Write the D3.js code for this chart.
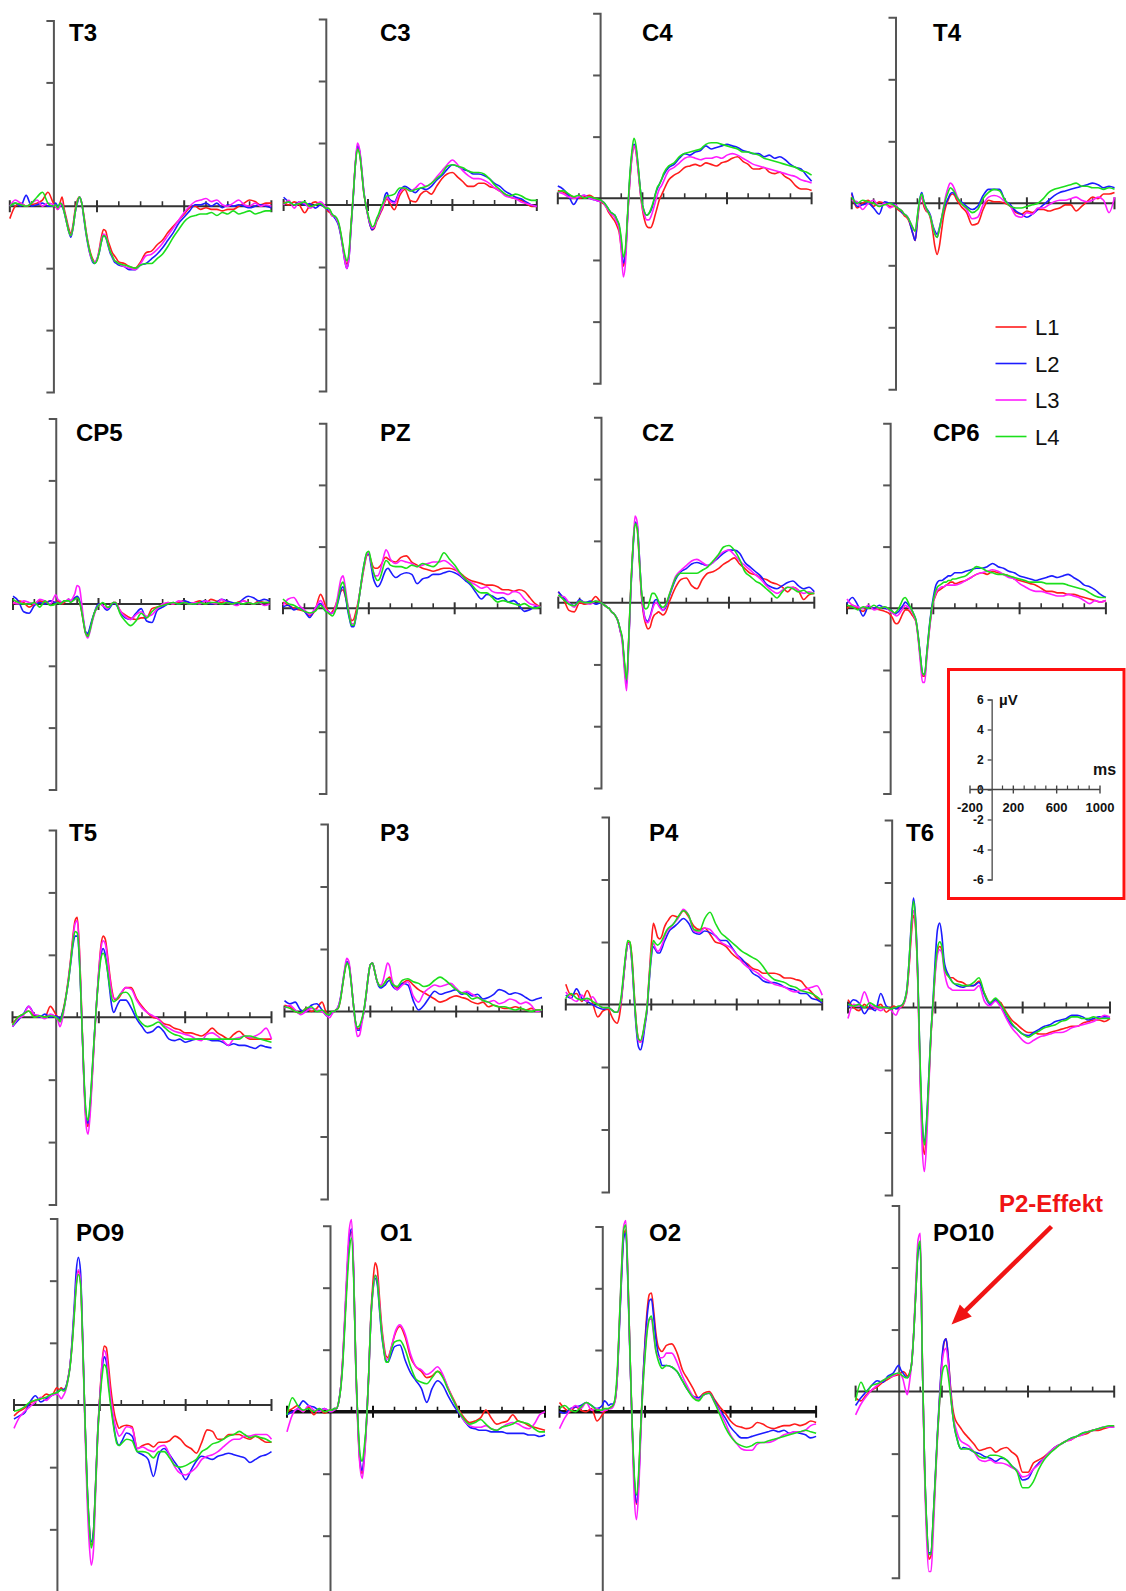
<!DOCTYPE html>
<html>
<head>
<meta charset="utf-8">
<script src="https://cdn.jsdelivr.net/npm/d3@7"></script>
<style>
  html, body { margin: 0; padding: 0; background: #fff; }
  svg { display: block; }
</style>
</head>
<body>
<svg id="chart" width="1126" height="1591"></svg>
<script>
// Sampling times (ms): coarse baseline, 10 ms steps over the early components, 25 ms afterwards
const times = [-200,-175,-150,-125,-100,-75,-50,-25,0,
  10,20,30,40,50,60,70,80,90,100,
  110,120,130,140,150,160,170,180,190,200,
  210,220,230,240,250,260,270,280,290,300,
  325,350,375,400,425,450,475,500,525,550,
  575,600,625,650,675,700,725,750,775,800,
  825,850,875,900,925,950,975,1000];

const conditions = ["L1", "L2", "L3", "L4"];
const electrodes = ["T3","C3","C4","T4","CP5","PZ","CZ","CP6","T5","P3","P4","T6","PO9","O1","O2","PO10"];

// Grand-average amplitudes in µV, one row per condition (L1, L2, L3, L4)
const T3 = [
  [-0.4,0,0.1,0,0.05,0.1,0.2,0.45,0.1,
   0,-0.1,0.1,0.3,-0.1,-0.4,-0.7,-0.9,-0.6,-0.1,
   0.2,0.3,0.1,-0.3,-0.8,-1.2,-1.5,-1.7,-1.8,-1.75,
   -1.4,-1.0,-0.75,-0.8,-1.1,-1.3,-1.5,-1.6,-1.7,-1.8,
   -1.85,-1.95,-2.0,-1.8,-1.5,-1.45,-1.25,-1.1,-0.85,-0.65,
   -0.45,-0.25,-0.05,0,-0.1,-0.05,-0.1,-0.1,-0.15,-0.1,
   -0.1,0,0.1,0.2,0.15,0.05,0.1,0.1],
  [0,0.1,0,0.35,0,0.05,0.1,0,0,
   0.1,0,0.05,0,-0.2,-0.5,-0.8,-1.0,-0.7,-0.2,
   0.1,0.3,0.1,-0.4,-0.9,-1.3,-1.6,-1.8,-1.85,-1.7,
   -1.5,-1.15,-0.95,-1.0,-1.25,-1.5,-1.65,-1.8,-1.85,-1.9,
   -1.95,-2.05,-2.05,-1.9,-1.85,-1.7,-1.55,-1.35,-1.1,-0.85,
   -0.55,-0.35,-0.15,0.05,0.05,0.1,0,0.1,-0.05,0.05,
   0,0.05,0,-0.05,0,0.05,0,-0.05],
  [0,0.2,0.1,0,0.1,0.2,0,0.1,0.05,
   0,-0.1,0,0.1,-0.2,-0.5,-0.8,-0.95,-0.7,-0.2,
   0.15,0.3,0.1,-0.35,-0.85,-1.25,-1.6,-1.75,-1.8,-1.7,
   -1.45,-1.1,-0.9,-0.95,-1.2,-1.45,-1.6,-1.75,-1.8,-1.85,
   -1.95,-2.0,-2.05,-1.85,-1.6,-1.55,-1.4,-1.2,-0.95,-0.7,
   -0.45,-0.2,0,0.15,0.2,0.25,0.15,0.2,0.05,0,
   0.1,0.2,0.05,0,0.1,0,0.05,0],
  [0,0.1,0.05,0,0.1,0.3,0.45,0.1,0,
   0.05,-0.05,0.1,0.05,-0.2,-0.5,-0.8,-0.95,-0.7,-0.2,
   0.15,0.3,0.1,-0.35,-0.85,-1.25,-1.55,-1.75,-1.85,-1.75,
   -1.5,-1.15,-0.95,-1.0,-1.2,-1.45,-1.6,-1.75,-1.8,-1.85,
   -1.9,-1.95,-2.0,-1.9,-1.85,-1.85,-1.7,-1.55,-1.3,-1.0,
   -0.75,-0.5,-0.35,-0.3,-0.25,-0.25,-0.2,-0.3,-0.2,-0.25,
   -0.15,-0.25,-0.2,-0.15,-0.25,-0.2,-0.15,-0.15]
];

const C3 = [
  [0.1,0,0.1,0,-0.25,0,0.1,0,-0.1,
   -0.2,-0.25,-0.35,-0.35,-0.45,-0.6,-0.9,-1.3,-1.7,-1.9,
   -1.6,-0.6,0.3,1.3,1.85,1.7,1.1,0.4,0,-0.35,
   -0.65,-0.8,-0.75,-0.55,-0.4,-0.25,-0.1,0.1,0.2,0.1,
   -0.15,0.3,0.5,0.15,0.1,0.35,0.45,0.35,0.6,0.85,
   1.0,1.05,0.9,0.75,0.6,0.6,0.7,0.7,0.6,0.55,
   0.45,0.35,0.25,0.2,0.15,0.05,-0.05,-0.05],
  [0.25,0.1,0,0.1,0,0.05,-0.1,0,-0.1,
   -0.15,-0.2,-0.3,-0.4,-0.5,-0.65,-0.95,-1.35,-1.8,-2.05,
   -1.7,-0.7,0.25,1.3,1.9,1.75,1.15,0.45,0,-0.35,
   -0.65,-0.8,-0.7,-0.5,-0.35,-0.2,0,0.3,0.4,0.2,
   0.1,0.45,0.6,0.5,0.4,0.55,0.5,0.6,0.8,0.95,
   1.15,1.3,1.25,1.15,1.1,1.0,1.0,0.95,0.85,0.7,
   0.6,0.45,0.35,0.25,0.2,0.1,0,-0.05],
  [0,0.15,-0.1,0.1,0.05,-0.1,0,0.1,-0.05,
   -0.1,-0.2,-0.35,-0.35,-0.45,-0.6,-0.9,-1.35,-1.8,-2.05,
   -1.7,-0.7,0.3,1.35,2.0,1.8,1.2,0.45,0,-0.35,
   -0.6,-0.75,-0.7,-0.5,-0.35,-0.2,-0.05,0.15,0.25,0.15,
   0.05,0.4,0.55,0.45,0.55,0.7,0.6,0.7,0.9,1.1,
   1.3,1.45,1.3,1.1,0.95,0.85,0.85,0.8,0.7,0.55,
   0.45,0.3,0.25,0.2,0.1,0.05,0,-0.05],
  [0.05,0.1,0,0.05,0.1,-0.05,0,0.05,-0.1,
   -0.1,-0.15,-0.3,-0.35,-0.4,-0.55,-0.85,-1.25,-1.6,-1.8,
   -1.5,-0.6,0.3,1.3,1.8,1.65,1.1,0.4,0,-0.3,
   -0.55,-0.7,-0.65,-0.45,-0.3,-0.1,0.05,0.2,0.3,0.3,
   0.35,0.55,0.55,0.45,0.5,0.55,0.6,0.7,0.85,1.0,
   1.25,1.3,1.25,1.2,1.1,1.05,1.05,1.0,0.85,0.65,
   0.5,0.35,0.3,0.35,0.3,0.2,0.15,0.15]
];

const C4 = [
  [0.25,0.2,0.1,0.05,0,0.05,0.1,0,-0.1,
   -0.15,-0.2,-0.3,-0.45,-0.55,-0.65,-0.75,-0.9,-1.1,-1.6,
   -2.2,-1.8,-0.6,0.5,1.3,1.7,1.5,0.9,0.2,-0.35,
   -0.7,-0.9,-0.95,-0.95,-0.8,-0.55,-0.3,-0.05,0.1,0.25,
   0.6,0.75,0.85,1.0,1.05,1.1,1.05,1.15,1.1,1.05,
   1.15,1.2,1.3,1.35,1.2,1.1,0.95,0.95,1.0,0.85,
   0.8,0.85,0.7,0.6,0.4,0.3,0.3,0.25],
  [0.4,0.3,0.1,-0.2,0.05,0.1,0,-0.05,-0.1,
   -0.1,-0.15,-0.25,-0.35,-0.45,-0.5,-0.55,-0.7,-0.9,-1.4,
   -2.1,-1.8,-0.6,0.6,1.4,1.75,1.6,1.0,0.3,-0.2,
   -0.45,-0.55,-0.5,-0.4,-0.2,0.1,0.3,0.45,0.6,0.75,
   1.0,1.1,1.3,1.45,1.4,1.5,1.55,1.7,1.6,1.65,
   1.7,1.75,1.7,1.65,1.55,1.5,1.45,1.45,1.35,1.4,
   1.3,1.35,1.25,1.1,1.0,0.95,0.75,0.55],
  [0.2,0.15,0.05,0,0.05,0.1,0,-0.05,-0.1,
   -0.1,-0.2,-0.3,-0.4,-0.5,-0.55,-0.65,-0.8,-1.0,-1.7,
   -2.55,-2.1,-0.7,0.5,1.3,1.7,1.5,0.9,0.2,-0.3,
   -0.55,-0.7,-0.7,-0.6,-0.4,-0.15,0.1,0.3,0.4,0.55,
   0.9,1.0,1.15,1.3,1.35,1.3,1.25,1.3,1.3,1.35,
   1.3,1.4,1.45,1.4,1.3,1.2,1.1,1.05,1.0,0.95,
   0.9,0.85,0.8,0.75,0.7,0.6,0.55,0.5],
  [0.2,0.25,0.15,0.05,0.1,0,0.05,0,-0.05,
   -0.1,-0.15,-0.25,-0.35,-0.45,-0.5,-0.55,-0.7,-0.85,-1.3,
   -1.9,-1.6,-0.5,0.7,1.5,1.95,1.7,1.05,0.3,-0.2,
   -0.45,-0.55,-0.5,-0.35,-0.15,0.1,0.35,0.45,0.6,0.8,
   1.05,1.15,1.35,1.45,1.5,1.55,1.6,1.75,1.8,1.8,
   1.75,1.7,1.65,1.6,1.5,1.5,1.45,1.4,1.3,1.25,
   1.2,1.15,1.1,1.05,1.0,0.9,0.85,0.75]
];

const T4 = [
  [0.3,-0.15,0,0.1,-0.1,0.05,0,-0.1,-0.1,
   -0.2,-0.25,-0.3,-0.4,-0.45,-0.55,-0.75,-1.0,-1.2,-0.6,
   0,0.2,-0.1,-0.25,-0.3,-0.5,-0.9,-1.4,-1.65,-1.4,
   -0.9,-0.4,-0.1,0.1,0.25,0.3,0.25,0.1,0,-0.1,
   -0.3,-0.7,-0.65,-0.2,0.1,0.05,0.05,0,-0.1,-0.3,
   -0.35,-0.25,-0.3,-0.2,-0.2,-0.25,-0.2,-0.15,-0.05,-0.05,
   -0.25,-0.1,0.05,0.2,0.15,0.3,0.3,0.35],
  [0.35,-0.1,-0.05,0,-0.15,-0.35,0.05,0,-0.05,
   -0.15,-0.2,-0.3,-0.35,-0.4,-0.5,-0.75,-1.0,-1.2,-0.5,
   0.1,0.35,0.05,-0.15,-0.25,-0.4,-0.7,-0.9,-1.0,-0.8,
   -0.5,-0.2,0,0.15,0.3,0.35,0.3,0.2,0.1,0.05,
   -0.1,-0.2,-0.1,0.25,0.45,0.45,0.45,0.1,-0.05,-0.25,
   -0.35,-0.45,-0.35,-0.2,-0.05,0.1,0.25,0.35,0.4,0.45,
   0.5,0.55,0.6,0.65,0.6,0.5,0.55,0.5],
  [0.1,0.05,-0.2,0,0.1,-0.1,0,-0.15,-0.05,
   -0.15,-0.2,-0.25,-0.35,-0.4,-0.5,-0.65,-0.8,-0.9,-0.45,
   0,0.2,0,-0.2,-0.3,-0.45,-0.75,-1.0,-1.1,-0.85,
   -0.5,-0.1,0.25,0.5,0.65,0.6,0.45,0.25,0.1,0,
   -0.2,-0.5,-0.45,-0.05,0.2,0.25,0.2,0.05,-0.1,-0.4,
   -0.45,-0.3,-0.35,-0.15,-0.15,-0.05,0.05,0.1,0.1,0.15,
   0.2,0.1,0.05,0.1,0.2,0.1,-0.3,0.2],
  [0.2,0,0.1,0.05,0,-0.1,-0.05,0,-0.1,
   -0.15,-0.2,-0.25,-0.35,-0.4,-0.5,-0.65,-0.8,-0.9,-0.4,
   0.1,0.3,0.05,-0.15,-0.3,-0.45,-0.75,-1.0,-1.1,-0.85,
   -0.5,-0.15,0.15,0.35,0.5,0.45,0.35,0.2,0.1,0,
   -0.15,-0.3,-0.2,0.15,0.35,0.45,0.4,0.1,-0.1,-0.15,
   -0.15,-0.1,-0.05,0,0.15,0.35,0.45,0.5,0.55,0.6,
   0.65,0.55,0.55,0.5,0.5,0.45,0.5,0.45]
];

const CP5 = [
  [0,0.1,0.05,-0.1,0,0.1,0.05,0.1,0.05,
   0.1,0.05,0,0.05,0.1,0.15,0.1,0.15,0.2,0.2,
   0.1,-0.2,-0.6,-0.95,-1.0,-0.8,-0.55,-0.3,-0.15,-0.05,
   0,-0.05,-0.1,-0.15,-0.1,0,0.05,0.05,-0.05,-0.2,
   -0.35,-0.45,-0.5,-0.45,-0.45,-0.15,-0.1,-0.05,0.05,0,
   0.05,0.1,0,0.05,0.1,0,0.15,0.1,0.05,0.1,
   0,0.05,0.1,0.05,0,0.1,0.05,0.05],
  [0.25,0.1,-0.25,-0.3,-0.05,0.05,0,0.1,0.05,
   0.05,0,0.05,0.1,0.1,0.15,0.1,0.15,0.2,0.25,
   0.15,-0.15,-0.55,-0.9,-0.95,-0.75,-0.5,-0.3,-0.1,0,
   0,-0.05,-0.15,-0.2,-0.15,-0.05,0.05,0,-0.1,-0.25,
   -0.45,-0.5,-0.3,-0.15,-0.55,-0.6,-0.2,-0.1,0,0.05,
   0,0.1,0.05,0,0.05,0.1,0,0.05,0.15,0.1,
   0.05,0,0.15,0.25,0.2,0.1,0.15,0.1],
  [0.05,0,0.1,0.05,0,0.15,0.1,0,0.3,
   0.15,0.1,0.05,0.1,0.1,0.15,0.1,0.2,0.35,0.6,
   0.55,0.1,-0.5,-0.95,-1.1,-0.9,-0.6,-0.35,-0.15,-0.05,
   0,-0.05,-0.1,-0.15,-0.1,0,0.05,0.05,-0.05,-0.2,
   -0.4,-0.5,-0.35,-0.25,-0.4,-0.35,-0.15,0,0.05,0,
   0.1,0.05,0,0.05,0,0.1,0.05,0,0.15,0.05,
   0,-0.05,0.1,0.05,0,0.05,-0.05,0],
  [0.15,0.05,0,0,0.05,-0.1,0.1,-0.05,0,
   0.05,0,0.05,0.1,0.1,0.1,0.05,0.1,0.15,0.2,
   0.1,-0.2,-0.6,-0.95,-1.05,-0.85,-0.55,-0.3,-0.15,-0.05,
   0,0.05,0,-0.1,-0.1,0,0.05,0.05,-0.1,-0.3,
   -0.55,-0.7,-0.55,-0.3,-0.45,-0.25,-0.1,-0.05,0,0.05,
   0,0.05,0,0,0.05,0,0.05,0.05,0,0.05,
   0,0.05,0,0.05,0,0.05,0.05,0.05]
];

const PZ = [
  [0.2,0.1,0,-0.05,-0.1,-0.25,-0.05,0.45,0.05,
   -0.1,-0.2,-0.1,0,0.2,0.4,0.55,0.6,0.4,0.1,
   -0.2,-0.4,-0.35,-0.1,0.2,0.6,1.0,1.4,1.7,1.75,
   1.55,1.35,1.3,1.3,1.35,1.45,1.6,1.65,1.6,1.55,
   1.5,1.65,1.7,1.5,1.4,1.3,1.25,1.2,1.25,1.3,
   1.3,1.25,1.15,1.0,0.9,0.85,0.8,0.75,0.75,0.7,
   0.6,0.6,0.55,0.6,0.55,0.35,0.15,0.05],
  [0.05,0.1,-0.05,0,-0.1,-0.3,0,0.15,-0.1,
   -0.1,-0.15,-0.15,-0.1,0.05,0.3,0.6,0.7,0.45,0,
   -0.35,-0.6,-0.6,-0.3,0.1,0.6,1.1,1.5,1.75,1.75,
   1.4,1.0,0.8,0.7,0.75,0.9,1.1,1.25,1.3,1.2,
   1.0,1.1,1.15,1.1,0.8,0.95,1.0,1.1,1.1,1.15,
   1.2,1.15,1.05,0.9,0.75,0.5,0.3,0.45,0.4,0.3,
   0.35,0.2,0.25,0.1,-0.1,-0.05,0.05,0.05],
  [0.1,0.3,0.35,0.1,-0.05,-0.2,0,0.25,-0.05,
   -0.1,-0.15,-0.15,-0.05,0.2,0.6,0.95,1.05,0.7,0.2,
   -0.2,-0.5,-0.5,-0.25,0.15,0.6,1.05,1.45,1.75,1.8,
   1.5,1.2,1.05,1.05,1.15,1.4,1.7,1.9,1.8,1.6,
   1.45,1.55,1.5,1.45,1.35,1.4,1.45,1.5,1.5,1.55,
   1.45,1.3,1.1,0.95,0.85,0.75,0.65,0.7,0.55,0.5,
   0.5,0.45,0.55,0.5,0.3,0.15,0.1,0.05],
  [0.3,0.15,0.1,0,-0.1,-0.15,-0.1,0.1,-0.1,
   -0.15,-0.2,-0.25,-0.15,0.05,0.4,0.75,0.85,0.55,0.1,
   -0.3,-0.55,-0.55,-0.25,0.1,0.6,1.1,1.5,1.8,1.85,
   1.55,1.2,1.0,0.9,0.95,1.15,1.4,1.55,1.5,1.4,
   1.35,1.35,1.3,1.4,1.35,1.45,1.4,1.35,1.5,1.8,
   1.6,1.4,1.15,0.95,0.8,0.6,0.5,0.5,0.35,0.2,
   0.25,0.2,0.15,0.1,0.15,0.05,0,0.05]
];

const CZ = [
  [0.35,0.1,-0.25,-0.3,0,-0.05,0,0.2,0,
   -0.05,-0.1,-0.15,-0.2,-0.3,-0.35,-0.45,-0.6,-0.9,-1.2,
   -2.0,-2.6,-1.2,0.5,1.8,2.6,2.4,1.3,0.2,-0.4,
   -0.7,-0.85,-0.8,-0.55,-0.4,-0.35,-0.3,-0.35,-0.4,-0.35,
   0.1,0.5,0.75,0.8,0.55,0.45,0.75,0.95,1.0,1.1,
   1.25,1.35,1.45,1.25,1.1,0.95,0.9,0.8,0.75,0.65,
   0.6,0.5,0.35,0.5,0.4,0.1,0.25,0.3],
  [0.35,0.15,0,-0.1,0.1,0,0.05,-0.05,0,
   -0.05,-0.1,-0.15,-0.2,-0.3,-0.35,-0.45,-0.6,-0.9,-1.2,
   -2.0,-2.65,-1.3,0.4,1.7,2.6,2.5,1.5,0.3,-0.3,
   -0.55,-0.6,-0.45,-0.2,0.05,0.1,0,-0.15,-0.25,-0.2,
   0.3,0.75,1.0,1.1,1.25,1.3,1.25,1.2,1.3,1.45,
   1.6,1.7,1.7,1.6,1.3,1.15,1.0,0.85,0.6,0.5,
   0.45,0.55,0.65,0.7,0.55,0.45,0.5,0.35],
  [0.2,0.2,0,-0.15,0.05,0,-0.05,0.05,0,
   -0.05,-0.1,-0.15,-0.2,-0.3,-0.35,-0.45,-0.6,-0.9,-1.3,
   -2.2,-2.85,-1.4,0.4,1.8,2.8,2.6,1.5,0.3,-0.3,
   -0.6,-0.65,-0.5,-0.25,-0.05,0,-0.1,-0.2,-0.25,-0.15,
   0.35,0.85,1.05,1.2,1.35,1.4,1.3,1.2,1.3,1.5,
   1.65,1.7,1.55,1.35,1.2,1.05,0.9,0.75,0.55,0.4,
   0.3,0.4,0.5,0.5,0.4,0.3,0.35,0.3],
  [0.25,0.1,-0.05,-0.1,0.05,0,0,0.05,0,
   -0.05,-0.1,-0.15,-0.2,-0.3,-0.35,-0.45,-0.6,-0.85,-1.15,
   -1.9,-2.5,-1.2,0.5,1.8,2.55,2.4,1.4,0.4,-0.1,
   -0.2,-0.15,0.1,0.3,0.3,0.2,0.05,-0.1,-0.15,-0.1,
   0.35,0.8,0.95,0.95,0.95,0.95,1.05,1.15,1.35,1.55,
   1.8,1.85,1.7,1.4,1.0,0.85,0.7,0.6,0.45,0.3,
   0.15,0.35,0.5,0.45,0.35,0.4,0.3,0.3]
];

const CP6 = [
  [0,0.1,0,-0.1,0.05,0,-0.05,-0.1,-0.2,
   -0.3,-0.45,-0.5,-0.45,-0.3,-0.15,-0.05,-0.05,-0.1,-0.2,
   -0.3,-0.45,-0.95,-1.6,-2.2,-2.2,-1.5,-0.8,-0.2,0.2,
   0.4,0.55,0.6,0.65,0.7,0.75,0.8,0.85,0.85,0.8,
   0.85,0.9,1.0,1.1,1.15,1.1,1.2,1.15,1.1,1.05,
   0.95,0.9,0.85,0.8,0.75,0.65,0.55,0.55,0.5,0.5,
   0.45,0.45,0.4,0.35,0.3,0.25,0.2,0.25],
  [0.15,0.35,0.1,-0.25,0.05,0,0.1,0,-0.05,
   -0.1,-0.2,-0.15,-0.1,0,0.1,0.2,0.15,0.05,-0.05,
   -0.2,-0.4,-0.9,-1.55,-2.1,-2.15,-1.45,-0.7,-0.1,0.35,
   0.7,0.85,0.9,0.9,0.95,1.0,1.05,1.05,1.1,1.15,
   1.15,1.2,1.25,1.3,1.3,1.35,1.45,1.35,1.3,1.2,
   1.15,1.05,1.0,0.95,0.9,0.95,1.0,1.05,1.0,1.05,
   1.1,1.0,0.9,0.75,0.7,0.6,0.45,0.35],
  [0.3,0.1,0.05,0,0.1,-0.05,0,0.05,-0.1,
   -0.15,-0.2,-0.25,-0.2,-0.1,0,0.1,0.05,0,-0.1,
   -0.25,-0.45,-1.0,-1.75,-2.4,-2.4,-1.6,-0.85,-0.25,0.2,
   0.45,0.6,0.65,0.7,0.7,0.75,0.75,0.75,0.75,0.75,
   0.8,0.9,1.0,1.1,1.15,1.2,1.25,1.2,1.1,1.0,
   0.95,0.8,0.7,0.6,0.55,0.55,0.5,0.45,0.4,0.4,
   0.45,0.4,0.35,0.25,0.15,0.25,0.2,0.25],
  [0.1,0.05,-0.05,0.05,0,0.1,0,0.05,-0.05,
   -0.1,-0.15,-0.1,0,0.15,0.3,0.35,0.25,0.1,-0.05,
   -0.2,-0.4,-0.9,-1.55,-2.1,-2.15,-1.45,-0.75,-0.15,0.25,
   0.55,0.7,0.75,0.8,0.85,0.85,0.9,0.9,0.95,0.95,
   1.0,1.05,1.2,1.35,1.3,1.2,1.15,1.1,1.1,1.05,
   1.0,0.95,0.9,0.85,0.85,0.85,0.8,0.8,0.8,0.8,
   0.75,0.7,0.65,0.6,0.5,0.4,0.35,0.35]
];

const T5 = [
  [-0.2,0,0.1,0.2,0.05,0,0,0.35,0.1,
   0,-0.1,0.1,0.4,0.8,1.3,1.9,2.6,3.1,3.2,
   2.2,0.3,-1.8,-3.2,-3.5,-2.9,-1.8,-0.6,0.5,1.5,
   2.3,2.6,2.5,2.0,1.4,0.9,0.6,0.55,0.6,0.7,
   0.95,0.95,0.6,0.35,0.15,0,-0.05,-0.2,-0.25,-0.35,
   -0.4,-0.5,-0.5,-0.55,-0.6,-0.5,-0.35,-0.5,-0.6,-0.7,
   -0.55,-0.45,-0.6,-0.7,-0.7,-0.7,-0.7,-0.7],
  [-0.3,-0.1,0.1,0.35,0.1,0,0.1,0,0.05,
   0,-0.05,0.1,0.35,0.75,1.2,1.75,2.3,2.6,2.6,
   1.8,0.1,-1.8,-3.1,-3.4,-2.8,-1.7,-0.5,0.5,1.4,
   2.0,2.2,2.0,1.5,0.9,0.35,0.15,0.3,0.45,0.55,
   0.55,0.3,-0.05,-0.3,-0.5,-0.45,-0.3,-0.45,-0.7,-0.75,
   -0.7,-0.8,-0.75,-0.7,-0.7,-0.7,-0.75,-0.75,-0.8,-0.9,
   -0.85,-0.9,-0.9,-0.95,-1.0,-0.9,-0.95,-0.98],
  [-0.3,-0.05,0.05,0.35,0.1,0.05,-0.05,0.1,0,
   -0.1,-0.3,-0.1,0.3,0.75,1.25,1.85,2.5,3.0,3.1,
   2.1,0.2,-1.9,-3.4,-3.75,-3.1,-1.9,-0.6,0.5,1.5,
   2.2,2.45,2.35,1.9,1.3,0.8,0.6,0.6,0.65,0.75,
   0.95,0.9,0.55,0.3,0.15,0.05,-0.05,-0.25,-0.35,-0.45,
   -0.5,-0.55,-0.6,-0.7,-0.75,-0.55,-0.5,-0.6,-0.75,-0.9,
   -0.7,-0.65,-0.6,-0.65,-0.6,-0.5,-0.35,-0.7],
  [-0.25,0,0.1,0.2,0,0.05,0,0.05,0,
   -0.05,-0.15,0.05,0.35,0.75,1.2,1.8,2.4,2.75,2.7,
   1.9,0.1,-1.7,-3.0,-3.3,-2.7,-1.6,-0.5,0.5,1.3,
   1.9,2.05,1.9,1.5,1.0,0.6,0.5,0.55,0.65,0.75,
   0.8,0.6,0.05,-0.2,-0.3,-0.25,-0.15,-0.3,-0.45,-0.55,
   -0.6,-0.7,-0.7,-0.7,-0.7,-0.7,-0.7,-0.7,-0.7,-0.7,
   -0.7,-0.7,-0.6,-0.6,-0.65,-0.7,-0.75,-0.8]
];

const P3 = [
  [0.2,0.15,0,-0.05,0.1,0,0.1,0.3,-0.1,
   -0.1,-0.05,0,0.05,0.1,0.35,0.8,1.25,1.55,1.5,
   1.0,0.3,-0.3,-0.55,-0.55,-0.3,0,0.5,1.1,1.5,
   1.55,1.3,1.0,0.85,0.8,0.85,0.95,1.05,1.1,0.95,
   0.75,0.9,1.0,0.85,0.7,0.6,0.5,0.4,0.3,0.35,
   0.45,0.5,0.45,0.4,0.3,0.25,0.3,0.15,0.2,0.15,
   0.1,0.1,0.15,0.1,0.05,0.1,0.05,0.05],
  [0.35,0.25,0.3,0.05,0,0.2,0.25,0.05,-0.15,
   -0.1,-0.05,0,0.05,0.15,0.4,0.85,1.3,1.6,1.5,
   1.0,0.3,-0.3,-0.6,-0.6,-0.3,0,0.5,1.1,1.5,
   1.55,1.3,1.0,0.8,0.75,0.8,0.85,0.95,1.0,0.85,
   0.7,0.9,0.85,0.35,0.05,0.2,0.45,0.65,0.55,0.6,
   0.65,0.7,0.55,0.6,0.5,0.55,0.4,0.45,0.55,0.7,
   0.65,0.55,0.6,0.55,0.45,0.35,0.4,0.45],
  [0.1,0.2,0.05,-0.1,0,0.1,0.05,0,-0.15,
   -0.2,-0.1,0,0.05,0.15,0.4,0.85,1.35,1.7,1.6,
   1.05,0.3,-0.4,-0.8,-0.75,-0.4,0,0.5,1.1,1.5,
   1.55,1.3,1.0,0.85,0.85,1.0,1.3,1.55,1.45,1.05,
   0.7,0.85,0.95,0.5,0.3,0.6,0.75,0.85,0.8,0.85,
   0.9,0.75,0.6,0.65,0.55,0.45,0.35,0.3,0.35,0.25,
   0.3,0.4,0.35,0.25,0.3,0.2,0,0.05],
  [0.15,0.1,0,-0.05,0.1,0.15,0,0.05,-0.1,
   -0.1,0,0,0.05,0.1,0.35,0.8,1.25,1.55,1.45,
   0.95,0.3,-0.3,-0.5,-0.45,-0.25,0.05,0.55,1.1,1.5,
   1.55,1.3,1.0,0.85,0.8,0.85,0.95,1.05,1.05,0.9,
   0.8,1.0,1.05,0.95,0.9,0.8,0.85,1.0,1.1,1.0,
   0.85,0.7,0.6,0.55,0.4,0.45,0.35,0.3,0.2,0.15,
   0.15,0.1,0.05,0.1,0.05,0,0.05,0.05]
];

const P4 = [
  [0.65,0.3,0.35,0.1,0.45,0.05,-0.4,-0.2,-0.15,
   -0.3,-0.45,-0.55,-0.6,-0.4,0.1,0.8,1.5,1.95,2.0,
   1.5,0.4,-0.6,-1.1,-1.2,-1.0,-0.6,-0.15,0.9,1.9,
   2.6,2.4,2.15,2.1,2.2,2.45,2.6,2.7,2.8,2.85,
   2.8,3.0,2.8,2.5,2.4,2.45,2.25,2.0,1.95,1.85,
   1.65,1.5,1.4,1.3,1.15,1.1,1.0,1.0,1.0,0.95,
   0.85,0.85,0.8,0.75,0.55,0.4,0.2,0.05],
  [0.3,0.2,0.5,0.2,0.1,0,-0.1,-0.15,-0.1,
   -0.15,-0.2,-0.25,-0.25,-0.15,0.2,0.85,1.5,1.95,1.9,
   1.3,0.2,-0.8,-1.35,-1.45,-1.2,-0.7,-0.2,0.7,1.5,
   1.85,1.75,1.65,1.65,1.8,2.0,2.15,2.3,2.4,2.45,
   2.6,2.75,2.6,2.3,2.25,2.35,2.3,2.2,2.05,2.05,
   1.85,1.6,1.45,1.25,1.0,0.9,0.75,0.7,0.7,0.65,
   0.55,0.5,0.45,0.35,0.35,0.2,0.15,0.05],
  [0.4,0.2,0.1,0.3,0.1,0.25,0,-0.1,-0.1,
   -0.15,-0.2,-0.25,-0.25,-0.15,0.2,0.85,1.5,1.95,1.9,
   1.3,0.25,-0.65,-1.15,-1.2,-1.0,-0.6,-0.1,0.8,1.65,
   1.95,1.8,1.7,1.75,1.9,2.1,2.3,2.4,2.45,2.55,
   2.75,3.05,2.85,2.35,2.3,2.45,2.4,2.2,2.0,1.9,
   1.8,1.6,1.35,1.2,1.1,1.0,0.85,0.75,0.65,0.6,
   0.55,0.45,0.4,0.45,0.5,0.55,0.6,0.3],
  [0.2,0.35,0.2,0.15,0.2,0.1,0,-0.1,-0.1,
   -0.15,-0.2,-0.25,-0.25,-0.1,0.3,0.95,1.6,2.05,2.0,
   1.4,0.3,-0.65,-1.1,-1.15,-0.95,-0.55,-0.1,0.8,1.6,
   2.05,1.95,1.9,1.95,2.05,2.2,2.35,2.45,2.5,2.55,
   2.8,3.0,2.85,2.4,2.35,2.75,2.95,2.6,2.3,2.15,
   2.0,1.85,1.7,1.6,1.5,1.4,1.2,0.95,0.8,0.75,
   0.7,0.6,0.55,0.45,0.4,0.35,0.25,0.1]
];

const T6 = [
  [0.25,0,-0.1,0.1,-0.05,0,0.1,-0.15,0,
   0.05,0,-0.05,0,0.05,0.2,0.5,1.3,2.3,2.95,
   2.5,0.8,-2.0,-4.0,-4.7,-3.9,-2.4,-0.9,0.1,1.2,
   1.8,1.95,1.85,1.4,1.1,1.0,0.95,0.95,0.9,0.85,
   0.8,0.7,0.7,0.85,0.45,0.15,0.25,0.15,-0.15,-0.4,
   -0.55,-0.7,-0.8,-0.8,-0.85,-0.85,-0.8,-0.75,-0.7,-0.65,
   -0.6,-0.6,-0.5,-0.45,-0.4,-0.4,-0.45,-0.35],
  [0,0.25,0.15,-0.2,0,-0.1,0.45,0.05,-0.05,
   0,-0.05,0,0.05,0.1,0.25,0.6,1.5,2.7,3.5,
   2.8,1.0,-1.8,-3.7,-4.3,-3.6,-2.2,-0.8,0.3,1.6,
   2.5,2.7,2.3,1.5,1.2,1.05,0.9,0.8,0.75,0.7,
   0.65,0.7,0.7,0.8,0.4,0.1,0.25,0.05,-0.3,-0.55,
   -0.7,-0.85,-0.9,-0.8,-0.7,-0.6,-0.55,-0.45,-0.4,-0.35,
   -0.25,-0.25,-0.3,-0.4,-0.35,-0.3,-0.3,-0.3],
  [-0.35,0.1,0.05,0.5,0.1,0,-0.1,0,-0.1,
   -0.2,-0.25,-0.1,0,0.1,0.2,0.55,1.4,2.5,3.1,
   2.6,0.7,-2.2,-4.5,-5.25,-4.3,-2.6,-0.9,0.1,1.1,
   1.7,1.85,1.75,1.2,0.85,0.65,0.6,0.55,0.55,0.55,
   0.55,0.55,0.55,0.7,0.2,0.05,0.2,0,-0.35,-0.65,
   -0.85,-1.05,-1.15,-1.05,-0.95,-0.9,-0.85,-0.8,-0.8,-0.75,
   -0.65,-0.6,-0.55,-0.5,-0.45,-0.35,-0.25,-0.3],
  [0.1,0.05,0.1,0,0.15,0.05,0,0,-0.05,
   0,0,0.05,0.05,0.1,0.25,0.6,1.5,2.6,3.4,
   2.7,0.9,-1.7,-3.6,-4.4,-3.7,-2.3,-0.8,0.2,1.3,
   1.9,2.1,1.95,1.3,1.1,1.0,0.9,0.8,0.75,0.75,
   0.7,0.7,0.8,0.95,0.45,0.15,0.3,0.1,-0.2,-0.5,
   -0.7,-0.85,-0.95,-0.85,-0.75,-0.65,-0.6,-0.55,-0.45,-0.4,
   -0.3,-0.3,-0.35,-0.35,-0.3,-0.35,-0.35,-0.35]
];

const PO9 = [
  [-0.35,-0.2,-0.1,0.05,0.15,0.2,0.35,0.3,0.55,
   0.5,0.55,0.5,0.55,0.8,1.2,1.9,2.9,3.9,4.3,
   4.0,2.1,-0.3,-2.5,-3.9,-4.5,-4.1,-2.6,-0.9,0.3,
   1.3,1.9,1.85,1.3,0.6,0.05,-0.35,-0.6,-0.75,-0.7,
   -0.65,-0.7,-1.4,-1.3,-1.25,-1.35,-1.2,-1.2,-1.15,-1.0,
   -1.1,-1.3,-1.4,-1.55,-1.2,-0.8,-0.85,-1.1,-1.1,-0.95,
   -0.95,-0.95,-1.05,-1.1,-1.0,-1.1,-1.2,-1.2],
  [-0.45,-0.35,-0.25,0.1,0.3,0.1,0.2,0.3,0.4,
   0.45,0.5,0.5,0.55,0.8,1.2,2.0,3.1,4.3,4.75,
   4.3,2.2,-0.3,-2.4,-3.8,-4.4,-4.1,-2.6,-0.9,0.2,
   1.1,1.55,1.4,0.8,0.15,-0.4,-0.9,-1.2,-1.3,-1.2,
   -0.9,-1.0,-1.5,-1.6,-1.75,-2.3,-1.6,-1.4,-1.6,-1.85,
   -2.1,-2.4,-2.1,-1.8,-1.65,-1.7,-1.75,-1.65,-1.6,-1.55,
   -1.6,-1.65,-1.7,-1.85,-1.75,-1.65,-1.6,-1.5],
  [-0.75,-0.4,-0.2,-0.05,0.1,0.25,0.15,0.3,0.35,
   0.3,0.2,0.3,0.45,0.75,1.2,1.9,2.9,3.9,4.35,
   4.0,2.0,-0.5,-2.9,-4.4,-5.15,-4.7,-2.9,-1.0,0.2,
   1.3,1.75,1.6,1.0,0.3,-0.2,-0.6,-0.85,-1.0,-0.95,
   -0.7,-0.75,-1.4,-1.35,-1.45,-1.5,-1.35,-1.3,-1.6,-2.0,
   -2.2,-2.25,-2.15,-2.0,-1.75,-1.65,-1.6,-1.5,-1.35,-1.2,
   -1.1,-1.1,-1.0,-1.0,-0.95,-0.95,-0.95,-1.1],
  [-0.2,-0.15,-0.05,0.1,0.15,0.2,0.25,0.35,0.4,
   0.45,0.5,0.45,0.5,0.75,1.15,1.85,2.8,3.8,4.2,
   3.9,2.0,-0.3,-2.4,-3.8,-4.6,-4.2,-2.7,-1.0,0.1,
   0.9,1.3,1.2,0.6,0,-0.5,-0.95,-1.25,-1.3,-1.25,
   -1.1,-1.15,-1.5,-1.5,-1.55,-1.7,-1.5,-1.5,-1.7,-1.95,
   -2.0,-1.95,-1.85,-1.75,-1.5,-1.4,-1.25,-1.2,-1.1,-1.0,
   -0.95,-0.85,-0.95,-1.05,-1.0,-1.05,-1.1,-1.2]
];

const O1 = [
  [0,0.1,0.2,0,0.15,-0.1,0.1,-0.05,0.05,
   0.05,0.1,0.1,0.3,0.8,1.8,3.1,4.5,5.6,5.8,
   4.5,1.5,-0.5,-1.7,-2.0,-1.4,-0.3,1.2,3.1,4.2,
   4.8,4.6,3.7,2.8,2.2,1.8,1.75,1.95,2.2,2.45,
   2.75,2.4,1.75,1.45,1.3,1.1,1.15,1.3,1.15,0.75,
   0.4,0.05,-0.2,-0.35,-0.3,-0.2,0.05,-0.2,-0.4,-0.35,
   -0.3,-0.1,-0.3,-0.35,-0.45,-0.5,-0.55,-0.6],
  [-0.1,0,0.1,0.35,0.2,0.15,0.05,0.1,0,
   0.05,0.1,0.1,0.3,0.8,1.7,3.1,4.5,5.6,5.9,
   4.5,1.5,-0.4,-1.6,-1.9,-1.3,-0.3,1.2,3.0,3.95,
   4.3,4.1,3.3,2.5,2.0,1.65,1.6,1.75,1.95,2.1,
   2.15,1.65,1.25,1.0,0.75,0.3,0.75,1.0,0.85,0.5,
   0.2,-0.05,-0.3,-0.5,-0.55,-0.6,-0.6,-0.65,-0.65,-0.65,
   -0.7,-0.7,-0.7,-0.7,-0.75,-0.75,-0.8,-0.75],
  [-0.65,-0.1,0.1,0,0.2,0.05,0,0.1,0,
   0,0.05,0.1,0.3,0.8,1.8,3.3,4.8,5.9,6.2,
   4.6,1.4,-0.6,-1.8,-2.15,-1.5,-0.4,1.1,3.0,3.9,
   4.4,4.3,3.5,2.7,2.1,1.7,1.7,1.9,2.2,2.5,
   2.8,2.5,1.85,1.45,1.35,1.2,1.3,1.45,1.2,0.75,
   0.35,0,-0.3,-0.45,-0.5,-0.5,-0.45,-0.55,-0.6,-0.5,
   -0.4,-0.35,-0.4,-0.5,-0.55,-0.4,-0.1,0],
  [-0.1,0.45,0.2,0.05,0.1,0,0.1,0,0.05,
   0.05,0.1,0.1,0.3,0.75,1.6,2.9,4.2,5.2,5.6,
   4.3,1.5,-0.3,-1.4,-1.6,-1.1,-0.3,1.2,3.0,3.95,
   4.4,4.2,3.4,2.6,2.0,1.6,1.6,1.85,2.1,2.25,
   2.3,2.0,1.45,1.05,0.95,0.9,1.1,1.3,1.1,0.7,
   0.35,0,-0.25,-0.4,-0.35,-0.25,-0.4,-0.55,-0.6,-0.5,
   -0.45,-0.4,-0.3,-0.35,-0.4,-0.55,-0.65,-0.65]
];

const O2 = [
  [0.3,0.1,0,0.15,0.05,0,0.1,-0.3,-0.1,
   0,0.05,0.1,0.15,0.2,0.35,1.1,2.8,4.4,5.7,
   5.9,4.3,1.8,-0.5,-2.3,-3.0,-2.2,-0.5,1.0,2.3,
   3.3,3.8,3.85,3.3,2.6,2.15,2.0,1.95,2.05,2.15,
   2.2,1.9,1.35,1.05,0.75,0.45,0.6,0.65,0.4,0.15,
   -0.05,-0.3,-0.45,-0.5,-0.55,-0.5,-0.35,-0.4,-0.5,-0.55,
   -0.5,-0.45,-0.45,-0.4,-0.45,-0.4,-0.3,-0.35],
  [0,-0.05,0.1,0.15,0.2,0.3,0.2,0.1,0.2,
   0.35,0.3,0.2,0.25,0.25,0.4,1.1,2.7,4.3,5.6,
   5.8,4.1,1.7,-0.5,-2.2,-2.95,-2.3,-0.6,1.0,2.2,
   3.1,3.6,3.65,3.1,2.4,1.95,1.7,1.5,1.5,1.5,
   1.45,1.3,1.0,0.7,0.5,0.45,0.55,0.6,0.35,0.05,
   -0.2,-0.5,-0.7,-0.85,-0.85,-0.8,-0.75,-0.7,-0.65,-0.6,
   -0.65,-0.6,-0.7,-0.65,-0.7,-0.75,-0.85,-0.8],
  [-0.55,-0.2,0.05,0.2,0.1,0.3,0.05,0.1,0,
   0.05,0.05,0.1,0.1,0.15,0.35,1.1,2.9,4.6,6.0,
   6.2,4.4,1.8,-0.6,-2.8,-3.5,-2.6,-0.8,0.8,1.9,
   2.7,3.0,3.0,2.5,2.0,1.8,1.75,1.75,1.8,1.9,
   1.9,1.6,1.15,0.8,0.5,0.4,0.55,0.6,0.3,0,
   -0.35,-0.75,-1.0,-1.2,-1.25,-1.25,-1.05,-1.0,-1.0,-0.95,
   -0.85,-0.75,-0.7,-0.65,-0.65,-0.6,-0.45,-0.4],
  [0.1,0.2,0.05,0,0.15,0.3,0.2,0.05,0.05,
   0.1,0.1,0.1,0.15,0.2,0.45,1.3,2.9,4.6,5.9,
   6.05,4.3,1.8,-0.4,-2.1,-2.7,-2.0,-0.5,0.8,1.8,
   2.6,3.0,3.1,2.6,2.0,1.7,1.5,1.4,1.45,1.5,
   1.45,1.3,1.0,0.7,0.45,0.35,0.55,0.6,0.3,-0.1,
   -0.5,-0.8,-1.0,-1.1,-1.15,-1.1,-1.0,-1.0,-0.95,-0.9,
   -0.85,-0.8,-0.75,-0.7,-0.65,-0.6,-0.65,-0.7]
];

const PO10 = [
  [-0.2,-0.3,-0.1,0.05,0.15,0.3,0.4,0.5,0.55,
   0.6,0.65,0.6,0.5,0.6,0.9,1.9,3.3,4.6,4.75,
   0.9,-2.4,-4.4,-5.4,-5.3,-4.2,-2.8,-1.4,-0.2,0.9,
   1.55,1.7,1.1,0.2,-0.5,-0.85,-1.0,-1.1,-1.2,-1.3,
   -1.5,-1.7,-1.9,-1.85,-1.8,-1.95,-1.85,-1.8,-1.95,-2.1,
   -2.6,-2.6,-2.3,-2.2,-2.1,-1.95,-1.8,-1.7,-1.6,-1.55,
   -1.45,-1.4,-1.35,-1.25,-1.25,-1.2,-1.15,-1.1],
  [-0.45,-0.2,0,0.2,0.35,0.3,0.5,0.6,0.85,
   0.7,0.6,0.5,0.45,0.55,0.9,1.9,3.3,4.5,4.7,
   0.8,-2.3,-4.3,-5.2,-5.2,-4.1,-2.7,-1.3,-0.1,1.0,
   1.6,1.7,1.1,0.1,-0.7,-1.2,-1.5,-1.75,-1.85,-1.8,
   -1.85,-1.95,-2.0,-2.1,-2.15,-2.25,-2.15,-2.2,-2.4,-2.55,
   -2.85,-2.8,-2.5,-2.3,-2.15,-1.95,-1.8,-1.7,-1.6,-1.5,
   -1.45,-1.35,-1.3,-1.25,-1.2,-1.15,-1.15,-1.15],
  [-0.75,-0.4,-0.15,0.05,0.2,0.35,0.45,0.5,0.6,
   0.55,0.4,0.1,-0.1,0.3,0.9,2.0,3.6,4.9,5.1,
   1.0,-2.6,-4.8,-5.8,-5.8,-4.6,-3.0,-1.5,-0.3,0.8,
   1.3,1.4,0.9,0,-0.7,-1.05,-1.3,-1.5,-1.6,-1.65,
   -1.75,-1.95,-2.2,-2.25,-2.2,-2.3,-2.3,-2.35,-2.45,-2.55,
   -2.75,-2.7,-2.5,-2.35,-2.15,-1.95,-1.8,-1.7,-1.6,-1.55,
   -1.45,-1.4,-1.3,-1.25,-1.2,-1.15,-1.15,-1.15],
  [-0.3,0.3,0,0.2,0.25,0.35,0.45,0.55,0.6,
   0.55,0.5,0.45,0.45,0.55,0.9,1.9,3.3,4.6,4.85,
   0.9,-2.3,-4.3,-5.25,-5.25,-4.1,-2.8,-1.4,-0.3,0.5,
   0.8,0.85,0.5,-0.1,-0.7,-1.2,-1.5,-1.75,-1.85,-1.85,
   -1.85,-1.95,-2.1,-2.15,-2.05,-2.05,-2.1,-2.2,-2.4,-2.6,
   -3.1,-3.1,-2.9,-2.5,-2.2,-2.0,-1.85,-1.7,-1.6,-1.5,
   -1.45,-1.35,-1.3,-1.25,-1.2,-1.15,-1.1,-1.1]
];

// Axis tick values
const majorTicks = [-200, 200, 600, 1000];
const minorTicks = [-100, 100, 300, 400, 500, 700, 800, 900];
const yTicks = [-4, -2, 2, 4];
const scaleYTicks = [-6, -4, -2, 0, 2, 4, 6];
const scaleXLabels = [-200, 200, 600, 1000];

const waves = [T3, C3, C4, T4, CP5, PZ, CZ, CP6, T5, P3, P4, T6, PO9, O1, O2, PO10];

// Panel frames: [x at -200 ms, x at 1000 ms, y at +6 µV, y at -6 µV, label x, label baseline]
const frames = [
  [9.8, 271.4, 20.5, 392, 69, 41],
  [283.6, 536.8, 19, 391, 380, 41],
  [557.8, 811.6, 13.3, 383.3, 642, 41],
  [851.7, 1114.5, 17.3, 389.3, 933, 41],
  [13, 269.5, 418.6, 789.4, 76, 441],
  [283, 540.5, 423.2, 793.4, 380, 441],
  [558.3, 814.3, 417.3, 788, 642, 441],
  [847, 1105.9, 423.2, 793.4, 933, 441],
  [12.5, 271.5, 830, 1204.5, 69, 841],
  [284.5, 542, 824, 1199, 380, 841],
  [565.8, 822.2, 817, 1192, 649, 841],
  [848, 1110, 820, 1195, 906, 841],
  [14, 271.5, 1218.5, 1591.5, 76, 1240.5],
  [287, 545, 1225.7, 1597.7, 380, 1240.5],
  [559.5, 816.1, 1226.6, 1596.8, 649, 1240.5],
  [855.6, 1114.2, 1205.5, 1577.7, 933, 1240.5]
];
const heavyBaseline = ["O1", "O2"];

const lineColors = ["#ff1c1c", "#1c1cff", "#ff1cff", "#1cdf1c"];
const FONT = "'Liberation Sans', Arial, Helvetica, sans-serif";

const svg = d3.select("#chart");

electrodes.forEach((name, k) => {
  const [x0, x1, top, bottom, lx, ly] = frames[k];
  const x = d3.scaleLinear().domain([-200, 1000]).range([x0, x1]);
  const y = d3.scaleLinear().domain([-6, 6]).range([bottom, top]);
  const g = svg.append("g").attr("class", "panel");
  const zeroY = y(0);

  // vertical amplitude axis with bracket ends
  g.append("g")
    .attr("transform", `translate(${x(0)},0)`)
    .attr("color", "#555")
    .call(d3.axisLeft(y).tickValues(yTicks).tickSize(7).tickSizeOuter(7).tickFormat(""))
    .call(a => a.selectAll("path, line").attr("stroke-width", 2));

  // horizontal time axis
  const heavy = heavyBaseline.includes(name);
  const axisColor = heavy ? "#111" : "#333";
  g.append("line")
    .attr("x1", x(-200)).attr("x2", x(1000))
    .attr("y1", zeroY).attr("y2", zeroY)
    .attr("stroke", axisColor).attr("stroke-width", heavy ? 3.6 : 2);
  g.selectAll("line.major").data(majorTicks).join("line")
    .attr("class", "major")
    .attr("x1", d => x(d)).attr("x2", d => x(d))
    .attr("y1", zeroY - 6).attr("y2", zeroY + 6)
    .attr("stroke", axisColor).attr("stroke-width", 2);
  g.selectAll("line.minor").data(minorTicks).join("line")
    .attr("class", "minor")
    .attr("x1", d => x(d)).attr("x2", d => x(d))
    .attr("y1", zeroY - 5).attr("y2", zeroY)
    .attr("stroke", axisColor).attr("stroke-width", 1.6);

  // the four condition waveforms
  const line = d3.line()
    .x((d, i) => x(times[i]))
    .y(d => y(d))
    .curve(d3.curveMonotoneX);
  waves[k].forEach((vals, c) => {
    g.append("path")
      .datum(vals.slice(0, times.length))
      .attr("fill", "none")
      .attr("stroke", lineColors[c])
      .attr("stroke-width", 1.6)
      .attr("stroke-linejoin", "round")
      .attr("d", line);
  });

  g.append("text")
    .attr("x", lx).attr("y", ly)
    .attr("font-family", FONT).attr("font-weight", "bold")
    .attr("font-size", 24).attr("fill", "#000")
    .text(name);
});

// legend
const legend = svg.append("g").attr("font-family", FONT);
conditions.forEach((c, i) => {
  const base = 335 + i * 36.5;
  legend.append("line")
    .attr("x1", 995.5).attr("x2", 1026.5)
    .attr("y1", base - 8).attr("y2", base - 8)
    .attr("stroke", lineColors[i]).attr("stroke-width", 1.6);
  legend.append("text")
    .attr("x", 1035).attr("y", base)
    .attr("font-size", 22).attr("fill", "#111")
    .text(c);
});

// calibration inset
const inset = svg.append("g").attr("font-family", FONT);
inset.append("rect")
  .attr("x", 948.5).attr("y", 669.5).attr("width", 175.5).attr("height", 229)
  .attr("fill", "#fff").attr("stroke", "#ff1010").attr("stroke-width", 3);
const sx = d3.scaleLinear().domain([-200, 1000]).range([970, 1100]);
const sy = d3.scaleLinear().domain([-6, 6]).range([879.5, 699.5]);
inset.append("g")
  .attr("transform", `translate(${sx(0)},0)`)
  .attr("color", "#555")
  .call(d3.axisLeft(sy).tickValues(scaleYTicks).tickSize(4).tickSizeOuter(4).tickPadding(4)
    .tickFormat(d => String(d)))
  .call(a => a.selectAll("path, line").attr("stroke-width", 1.4))
  .call(a => a.selectAll("text")
    .attr("font-family", FONT).attr("font-weight", "bold")
    .attr("font-size", 12).attr("fill", "#111"));
const iz = sy(0);
inset.append("line")
  .attr("x1", sx(-200)).attr("x2", sx(1000)).attr("y1", iz).attr("y2", iz)
  .attr("stroke", "#444").attr("stroke-width", 1.4);
inset.selectAll("line.imaj").data(majorTicks).join("line")
  .attr("class", "imaj")
  .attr("x1", d => sx(d)).attr("x2", d => sx(d))
  .attr("y1", iz - 4).attr("y2", iz + 4)
  .attr("stroke", "#444").attr("stroke-width", 1.4);
inset.selectAll("line.imin").data(minorTicks).join("line")
  .attr("class", "imin")
  .attr("x1", d => sx(d)).attr("x2", d => sx(d))
  .attr("y1", iz - 4).attr("y2", iz)
  .attr("stroke", "#444").attr("stroke-width", 1.2);
inset.selectAll("text.ixl").data(scaleXLabels).join("text")
  .attr("class", "ixl")
  .attr("x", d => sx(d)).attr("y", 812)
  .attr("text-anchor", "middle")
  .attr("font-weight", "bold").attr("font-size", 13).attr("fill", "#111")
  .text(d => String(d));
inset.append("text")
  .attr("x", 999).attr("y", 705)
  .attr("font-weight", "bold").attr("font-size", 15).attr("fill", "#111")
  .text("µV");
inset.append("text")
  .attr("x", 1093).attr("y", 775)
  .attr("font-weight", "bold").attr("font-size", 16).attr("fill", "#111")
  .text("ms");

// P2 annotation
const note = svg.append("g");
note.append("text")
  .attr("x", 999).attr("y", 1211.5)
  .attr("font-family", FONT).attr("font-weight", "bold")
  .attr("font-size", 24).attr("fill", "#f01414")
  .text("P2-Effekt");
const tail = [1051.5, 1226.5], tip = [951.5, 1324.5];
const dx = tip[0] - tail[0], dy = tip[1] - tail[1];
const len = Math.hypot(dx, dy);
const ux = dx / len, uy = dy / len;
const headLen = 20, headHalf = 8.5;
const bx = tip[0] - ux * headLen, by = tip[1] - uy * headLen;
note.append("line")
  .attr("x1", tail[0]).attr("y1", tail[1])
  .attr("x2", bx + ux * 2).attr("y2", by + uy * 2)
  .attr("stroke", "#f01414").attr("stroke-width", 4.5);
note.append("polygon")
  .attr("points", [
    tip,
    [bx - uy * headHalf, by + ux * headHalf],
    [bx + uy * headHalf, by - ux * headHalf]
  ].map(p => p.join(",")).join(" "))
  .attr("fill", "#f01414");
</script>
</body>
</html>
